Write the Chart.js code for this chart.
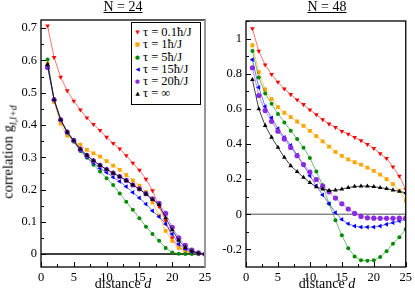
<!DOCTYPE html>
<html>
<head>
<meta charset="utf-8">
<script src="https://cdn.jsdelivr.net/npm/chart.js@4.4.0/dist/chart.umd.min.js"></script>
<style>
body { margin: 0; background: #fff; }
#wrap { position: relative; width: 415px; height: 294px; overflow: hidden; font-family: "Liberation Serif", serif; color: #000; }
canvas { position: absolute; left: 0; top: 0; }
.title { position: absolute; top: -1px; font-size: 14px; text-decoration: underline; transform: translateX(-50%); white-space: nowrap; }
.xlab { position: absolute; top: 276px; font-size: 14px; transform: translateX(-50%); white-space: nowrap; }
.ylab { position: absolute; left: 9px; top: 152px; font-size: 14.5px; white-space: nowrap; transform: translate(-50%, -50%) rotate(-90deg); }
.ylab sub { font-size: 10px; font-style: italic; }
.legend { position: absolute; left: 131px; top: 22px; width: 70px; height: 83px; border: 1px solid #000; background: #fff; box-sizing: border-box; padding-top: 3px; }
.legend .row { height: 12.3px; line-height: 12.3px; font-size: 12.5px; white-space: nowrap; }
.legend .mk { display: inline-block; width: 11px; text-align: center; font-family: "DejaVu Sans", sans-serif; font-size: 5.5px; vertical-align: top; }
</style>
</head>
<body>
<div id="wrap">
  <canvas id="left" width="415" height="294"></canvas>
  <canvas id="right" width="415" height="294"></canvas>
  <div class="title" style="left:123px">N = 24</div>
  <div class="title" style="left:327px">N = 48</div>
  <div class="xlab" style="left:123px">distance <i>d</i></div>
  <div class="xlab" style="left:327px">distance <i>d</i></div>
  <div class="ylab">correlation g<sub>l,l+d</sub></div>
  <div class="legend" id="legend"></div>
</div>
<script>
// distance d
const distance = [1, 2, 3, 4, 5, 6, 7, 8, 9, 10, 11, 12, 13, 14, 15, 16, 17, 18, 19, 20, 21, 22, 23, 24, 25];

// N = 24
const red24    = [0.707, 0.609, 0.548, 0.506, 0.474, 0.447, 0.422, 0.402, 0.383, 0.362, 0.343, 0.326, 0.305, 0.282, 0.260, 0.232, 0.197, 0.147, 0.103, 0.050, 0.022, 0.010, 0.004, 0.001, 0.000];
const orange24 = [0.590, 0.471, 0.404, 0.367, 0.350, 0.339, 0.323, 0.312, 0.302, 0.288, 0.274, 0.261, 0.245, 0.228, 0.212, 0.192, 0.160, 0.119, 0.072, 0.041, 0.019, 0.008, 0.003, 0.001, 0.000];
const green24  = [0.603, 0.478, 0.416, 0.375, 0.348, 0.319, 0.298, 0.277, 0.256, 0.235, 0.214, 0.188, 0.162, 0.137, 0.111, 0.085, 0.062, 0.041, 0.019, 0.005, 0.001, 0.000, 0.000, 0.000, 0.000];
const blue24   = [0.585, 0.478, 0.416, 0.377, 0.350, 0.321, 0.301, 0.282, 0.266, 0.253, 0.238, 0.225, 0.209, 0.191, 0.174, 0.155, 0.134, 0.116, 0.093, 0.062, 0.031, 0.016, 0.007, 0.002, 0.000];
const purple24 = [0.578, 0.478, 0.416, 0.378, 0.352, 0.325, 0.306, 0.289, 0.275, 0.262, 0.251, 0.240, 0.228, 0.214, 0.202, 0.187, 0.171, 0.157, 0.126, 0.083, 0.050, 0.027, 0.012, 0.004, 0.000];
const black24  = [0.587, 0.478, 0.416, 0.378, 0.352, 0.325, 0.306, 0.289, 0.275, 0.262, 0.251, 0.240, 0.228, 0.214, 0.201, 0.186, 0.169, 0.153, 0.112, 0.075, 0.042, 0.021, 0.009, 0.003, 0.000];

// N = 48
const red48    = [1.057, 0.929, 0.851, 0.796, 0.752, 0.714, 0.682, 0.651, 0.625, 0.594, 0.567, 0.539, 0.514, 0.495, 0.472, 0.457, 0.438, 0.419, 0.398, 0.375, 0.345, 0.318, 0.270, 0.217, 0.142];
const orange48 = [0.962, 0.809, 0.710, 0.655, 0.610, 0.578, 0.553, 0.528, 0.503, 0.475, 0.445, 0.415, 0.385, 0.355, 0.332, 0.312, 0.296, 0.283, 0.266, 0.247, 0.226, 0.200, 0.172, 0.135, 0.078];
const green48  = [0.929, 0.779, 0.688, 0.629, 0.571, 0.523, 0.476, 0.429, 0.379, 0.321, 0.243, 0.165, 0.060, -0.034, -0.120, -0.193, -0.240, -0.262, -0.264, -0.262, -0.243, -0.210, -0.168, -0.130, -0.085];
const blue48   = [0.880, 0.722, 0.613, 0.549, 0.487, 0.438, 0.392, 0.338, 0.280, 0.219, 0.162, 0.110, 0.061, 0.009, -0.029, -0.054, -0.067, -0.073, -0.073, -0.073, -0.067, -0.057, -0.048, -0.038, -0.030];
const purple48 = [0.834, 0.676, 0.590, 0.529, 0.473, 0.429, 0.380, 0.333, 0.283, 0.240, 0.198, 0.160, 0.128, 0.092, 0.060, 0.030, 0.005, -0.012, -0.020, -0.022, -0.023, -0.023, -0.023, -0.022, -0.022];
const black48  = [0.766, 0.600, 0.505, 0.438, 0.380, 0.324, 0.276, 0.243, 0.210, 0.180, 0.156, 0.143, 0.135, 0.137, 0.143, 0.152, 0.158, 0.160, 0.160, 0.157, 0.152, 0.146, 0.138, 0.130, 0.122];

// series labels and tick labels
const seriesLabels = ['τ = 0.1ħ/J', 'τ = 1ħ/J', 'τ = 5ħ/J', 'τ = 15ħ/J', 'τ = 20ħ/J', 'τ = ∞'];
const xTicks = [0, 5, 10, 15, 20, 25];
const yTicks24 = [0, 0.1, 0.2, 0.3, 0.4, 0.5, 0.6, 0.7];
const yTicks48 = [-0.2, 0, 0.2, 0.4, 0.6, 0.8, 1];

// marker styles per series
const styles = [
    { color: '#ff0000', line: 'rgba(255,0,0,0.55)',     pointStyle: 'triangle', rotation: 180, radius: 2.7, glyph: '▼' },
    { color: '#ffa500', line: 'rgba(255,165,0,0.6)',    pointStyle: 'rect',     rotation: 0,   radius: 2.7, glyph: '■' },
    { color: '#008b00', line: 'rgba(0,139,0,0.55)',     pointStyle: 'circle',   rotation: 0,   radius: 2.0, glyph: '●' },
    { color: '#0000ff', line: 'rgba(0,0,255,0.55)',     pointStyle: 'triangle', rotation: 270, radius: 2.7, glyph: '◀' },
    { color: '#8a2be2', line: 'rgba(138,43,226,0.55)',  pointStyle: 'circle',   rotation: 0,   radius: 2.6, glyph: '●' },
    { color: '#000000', line: 'rgba(0,0,0,0.75)',       pointStyle: 'triangle', rotation: 0,   radius: 2.7, glyph: '▲' }
];

function buildDatasets(series) {
    return series.map((vals, i) => ({
        label: seriesLabels[i],
        data: vals.map((v, k) => ({ x: distance[k], y: v })),
        borderColor: styles[i].line,
        borderWidth: 1,
        backgroundColor: styles[i].color,
        pointBackgroundColor: styles[i].color,
        pointBorderColor: styles[i].color,
        pointBorderWidth: 0,
        pointStyle: styles[i].pointStyle,
        pointRotation: styles[i].rotation,
        pointRadius: styles[i].radius,
        tension: 0,
        order: series.length - i
    }));
}

// frame, zero line and inward ticks like the original plot
const framePlugin = {
    id: 'frame',
    beforeDatasetsDraw(chart, args, opts) {
        const { ctx, chartArea: a, scales: { y } } = chart;
        const y0 = y.getPixelForValue(0);
        ctx.save();
        ctx.strokeStyle = opts.zeroColor;
        ctx.lineWidth = 1.5;
        ctx.beginPath();
        ctx.moveTo(a.left, y0);
        ctx.lineTo(a.right, y0);
        ctx.stroke();
        ctx.restore();
    },
    afterDraw(chart, args, opts) {
        const { ctx, chartArea: a, scales: { x, y } } = chart;
        ctx.save();
        ctx.strokeStyle = '#000';
        ctx.lineWidth = 1;
        const xs = x.ticks.map(t => t.value);
        const ys = y.ticks.map(t => t.value);
        const minor = arr => {
            const step = arr[1] - arr[0];
            const out = [];
            for (let v = arr[0] - step / 2; v <= arr[arr.length - 1] + step / 2 + 1e-9; v += step) out.push(v);
            return out;
        };
        ctx.beginPath();
        xs.forEach(v => { const p = Math.round(x.getPixelForValue(v)) + 0.5; ctx.moveTo(p, a.bottom); ctx.lineTo(p, a.bottom - 5); });
        minor(xs).forEach(v => { if (v > x.min && v < x.max) { const p = Math.round(x.getPixelForValue(v)) + 0.5; ctx.moveTo(p, a.bottom); ctx.lineTo(p, a.bottom - 3); } });
        ys.forEach(v => { const p = Math.round(y.getPixelForValue(v)) + 0.5; ctx.moveTo(a.left, p); ctx.lineTo(a.left + 5, p); });
        minor(ys).forEach(v => { if (v > y.min && v < y.max) { const p = Math.round(y.getPixelForValue(v)) + 0.5; ctx.moveTo(a.left, p); ctx.lineTo(a.left + 3, p); } });
        ctx.stroke();
        ctx.lineWidth = 1.3;
        ctx.strokeRect(a.left, a.top, a.right - a.left, a.bottom - a.top);
        if (opts.greyRight) {
            ctx.strokeStyle = '#999';
            ctx.lineWidth = 2;
            ctx.beginPath();
            ctx.moveTo(a.right, a.top);
            ctx.lineTo(a.right, a.bottom);
            ctx.stroke();
        }
        ctx.restore();
    }
};

function makeChart(id, series, yMin, yMax, yTicks, pad, yWidth, zeroColor, greyRight) {
    const tickFont = { family: 'Liberation Serif', size: 12.5 };
    return new Chart(document.getElementById(id), {
        type: 'line',
        data: { datasets: buildDatasets(series) },
        options: {
            responsive: false,
            animation: false,
            layout: { padding: pad },
            plugins: {
                legend: { display: false },
                tooltip: { enabled: false },
                frame: { zeroColor: zeroColor, greyRight: greyRight }
            },
            scales: {
                x: {
                    type: 'linear',
                    min: 0,
                    max: 25,
                    afterBuildTicks: s => { s.ticks = xTicks.map(v => ({ value: v })); },
                    afterFit: s => { s.height = 27; },
                    grid: { display: false, drawTicks: false },
                    border: { display: false },
                    ticks: { color: '#000', font: tickFont, padding: 3, maxRotation: 0, callback: v => String(v) }
                },
                y: {
                    min: yMin,
                    max: yMax,
                    afterBuildTicks: s => { s.ticks = yTicks.map(v => ({ value: v })); },
                    afterFit: s => { s.width = yWidth; },
                    grid: { display: false, drawTicks: false },
                    border: { display: false },
                    ticks: { color: '#000', font: tickFont, padding: 4, callback: v => String(Math.round(v * 10) / 10) }
                }
            }
        },
        plugins: [framePlugin]
    });
}

makeChart('left', [red24, orange24, green24, blue24, purple24, black24],
    -0.04, 0.725, yTicks24, { left: 0, right: 210, top: 20, bottom: 0 }, 41, '#000', true);
makeChart('right', [red48, orange48, green48, blue48, purple48, black48],
    -0.3, 1.1, yTicks48, { left: 207, right: 6, top: 21, bottom: 0 }, 39, '#888', false);

// legend box (left panel)
const legend = document.getElementById('legend');
seriesLabels.forEach((label, i) => {
    const row = document.createElement('div');
    row.className = 'row';
    row.innerHTML = '<span class="mk" style="color:' + styles[i].color + '">' + styles[i].glyph + '</span>' + label;
    legend.appendChild(row);
});
</script>
</body>
</html>
